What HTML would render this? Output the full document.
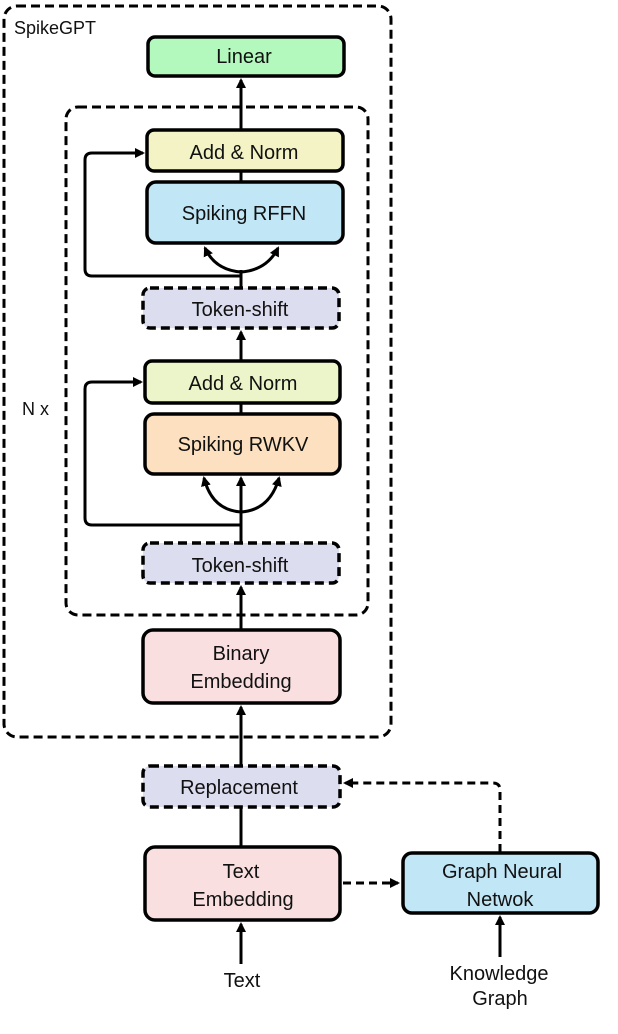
<!DOCTYPE html>
<html><head><meta charset="utf-8"><style>
html,body{margin:0;padding:0;background:#fff;}
svg{display:block;}
text{font-family:"Liberation Sans","DejaVu Sans",sans-serif;font-size:20px;fill:#111;text-anchor:middle;}
</style></head><body>
<svg width="618" height="1034" viewBox="0 0 618 1034" xmlns="http://www.w3.org/2000/svg">
<defs>
<marker id="a" markerWidth="10" markerHeight="10" refX="8" refY="5" orient="auto" markerUnits="userSpaceOnUse">
<path d="M0,0 L10,5 L0,10 z" fill="#000"/></marker>
</defs>
<g fill="none" stroke="#000" stroke-width="3" stroke-dasharray="9,5">
<rect x="4" y="6" width="387" height="731" rx="13"/>
<rect x="66" y="107" width="302" height="508" rx="12"/>
</g>
<text x="14" y="34" style="text-anchor:start;font-size:18px">SpikeGPT</text>
<text x="22" y="415" style="text-anchor:start;font-size:18px">N x</text>

<g stroke="#000" stroke-width="3" fill="none">
<line x1="241" y1="130" x2="241" y2="80" marker-end="url(#a)"/>
<line x1="241" y1="182" x2="241" y2="171"/>
<line x1="241" y1="288" x2="241" y2="270"/>
<path d="M241,276 L92,276 Q85,276 85,269 L85,160 Q85,153 92,153 L143,153" marker-end="url(#a)"/>
<path d="M241,272 Q215,270 205,248" marker-end="url(#a)"/>
<path d="M241,272 Q267,270 278,248" marker-end="url(#a)"/>
<line x1="241" y1="361" x2="241" y2="332" marker-end="url(#a)"/>
<line x1="241" y1="414" x2="241" y2="403"/>
<line x1="241" y1="543" x2="241" y2="478" marker-end="url(#a)"/>
<path d="M241,525 L92,525 Q85,525 85,518 L85,389 Q85,382 92,382 L141,382" marker-end="url(#a)"/>
<path d="M241,512 Q212,510 204,478" marker-end="url(#a)"/>
<path d="M241,512 Q270,510 279,478" marker-end="url(#a)"/>
<line x1="241" y1="630" x2="241" y2="587" marker-end="url(#a)"/>
<line x1="241" y1="766" x2="241" y2="707" marker-end="url(#a)"/>
<line x1="241" y1="847" x2="241" y2="807"/>
<line x1="241" y1="964" x2="241" y2="924" marker-end="url(#a)"/>
<line x1="500" y1="957" x2="500" y2="917" marker-end="url(#a)"/>
<path d="M343,883 L398,883" stroke-dasharray="8,5" marker-end="url(#a)"/>
<path d="M500,852 L500,790 Q500,783 493,783 L345,783" stroke-dasharray="8,5" marker-end="url(#a)"/>
</g>

<g stroke="#000" stroke-width="3.5">
<rect x="148" y="37" width="196" height="39" rx="7" fill="#b3f8bd"/>
<rect x="147" y="130" width="196" height="41" rx="7" fill="#f3f3c6"/>
<rect x="147" y="182" width="196" height="61" rx="9" fill="#c1e6f6"/>
<rect x="145" y="361" width="195" height="42" rx="7" fill="#ecf5c9"/>
<rect x="145" y="414" width="195" height="60" rx="9" fill="#fde0c0"/>
<rect x="143" y="630" width="197" height="73" rx="10" fill="#f9dfdf"/>
<rect x="145" y="847" width="195" height="73" rx="10" fill="#f9dfdf"/>
<rect x="403" y="853" width="195" height="60" rx="9" fill="#c1e6f6"/>
</g>
<g stroke="#000" stroke-width="3.5" stroke-dasharray="9,5" fill="#dcdeef">
<rect x="143" y="288" width="196" height="40" rx="7"/>
<rect x="143" y="543" width="196" height="40" rx="7"/>
<rect x="143" y="766" width="197" height="41" rx="7"/>
</g>

<text x="244" y="159">Add &amp; Norm</text>
<text x="244" y="63">Linear</text>
<text x="244" y="220">Spiking RFFN</text>
<text x="240" y="316">Token-shift</text>
<text x="243" y="390">Add &amp; Norm</text>
<text x="243" y="451">Spiking RWKV</text>
<text x="240" y="572">Token-shift</text>
<text x="241" y="660">Binary</text>
<text x="241" y="688">Embedding</text>
<text x="239" y="794">Replacement</text>
<text x="241" y="878">Text</text>
<text x="243" y="906">Embedding</text>
<text x="502" y="878">Graph Neural</text>
<text x="500" y="906">Netwok</text>
<text x="242" y="987">Text</text>
<text x="499" y="980">Knowledge</text>
<text x="500" y="1005">Graph</text>
</svg>
</body></html>
